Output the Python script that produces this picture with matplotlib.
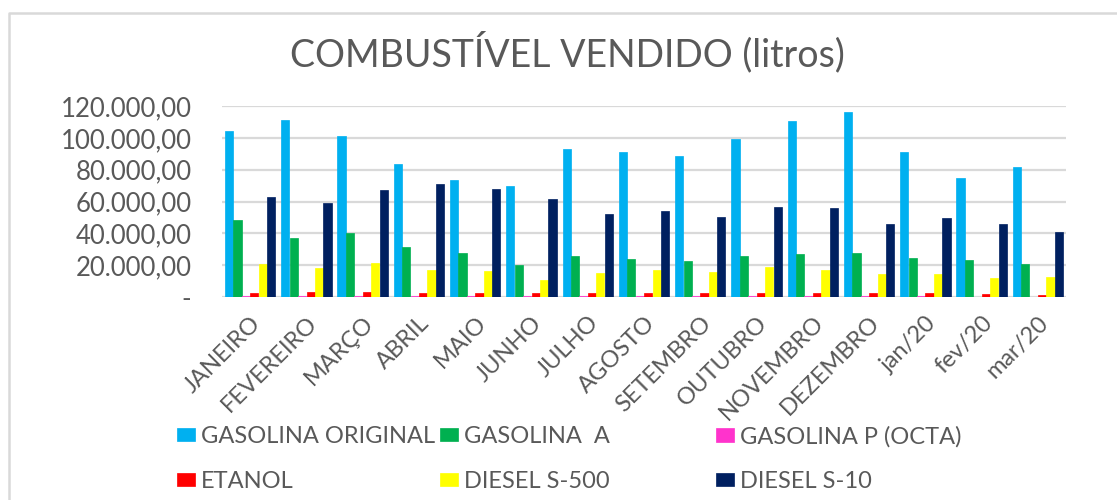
import matplotlib
matplotlib.use('Agg')
import matplotlib.pyplot as plt
import numpy as np
from matplotlib.lines import Line2D
from matplotlib.ticker import FuncFormatter

meses = ['JANEIRO', 'FEVEREIRO', 'MARÇO', 'ABRIL', 'MAIO', 'JUNHO', 'JULHO',
         'AGOSTO', 'SETEMBRO', 'OUTUBRO', 'NOVEMBRO', 'DEZEMBRO',
         'jan/20', 'fev/20', 'mar/20']

gasolina_original = [104500, 111000, 101000, 83500, 73500, 69700, 93000, 91000,
                     88500, 99000, 110500, 116000, 91000, 74700, 81600]
gasolina_a = [48400, 37000, 40000, 31400, 27600, 20000, 26000, 23700,
              22600, 25700, 27000, 27400, 24500, 23000, 20700]
gasolina_p = [700, 700, 700, 700, 700, 600, 600, 600,
              600, 600, 600, 500, 500, 0, 0]
etanol = [2800, 2900, 3000, 2700, 2800, 2400, 2600, 2500,
          2400, 2500, 2300, 2500, 2400, 2100, 1500]
diesel_s500 = [20700, 18200, 21400, 17000, 16300, 10700, 15000, 16800,
               15700, 18800, 17000, 14400, 14400, 11900, 12600]
diesel_s10 = [62800, 59000, 67000, 71000, 67800, 61500, 52000, 54000,
              50000, 56500, 55900, 45800, 49600, 45800, 40800]

series = ['GASOLINA ORIGINAL', 'GASOLINA  A', 'GASOLINA P (OCTA)',
          'ETANOL', 'DIESEL S-500', 'DIESEL S-10']
valores = [gasolina_original, gasolina_a, gasolina_p, etanol, diesel_s500, diesel_s10]
cores = ['#00B0F0', '#00B050', '#FF33CC', '#FF0000', '#FFFF00', '#002060']

plt.rcParams['font.family'] = ['Lato', 'DejaVu Sans']
cinza = '#595959'

fig = plt.figure(figsize=(11.17, 5.0), dpi=100)
ax = fig.add_axes([222 / 1117, 1 - 297 / 500, (1066 - 222) / 1117, (297 - 106) / 500])

x = np.arange(len(meses))
w = 0.15
barras = []
for i, (nome, v, c) in enumerate(zip(series, valores, cores)):
    b = ax.bar(x + (i - 2.5) * w, v, width=w * 0.97, color=c, label=nome,
               edgecolor=c, linewidth=0.5, zorder=3)
    barras.append(b)

ax.set_ylim(0, 120000)
ax.set_xlim(-0.5, len(meses) - 0.5)
ax.set_yticks(np.arange(0, 120001, 20000))


def fmt(v, pos):
    if v == 0:
        return '-'
    s = f'{v:,.2f}'
    return s.replace(',', 'X').replace('.', ',').replace('X', '.')


ax.yaxis.set_major_formatter(FuncFormatter(fmt))
ax.grid(axis='y', color='#d9d9d9', linewidth=1.6, zorder=0)
for s in ax.spines.values():
    s.set_visible(False)
ax.tick_params(axis='both', length=0, colors=cinza)
ax.tick_params(axis='y', pad=22, labelsize=18.5)
ax.tick_params(axis='x', labelsize=17, pad=11)
ax.set_xticks(x)
ax.set_xticklabels(meses, rotation=45, ha='right', rotation_mode='anchor')

fig.text(567 / 1117, 1 - 52 / 500, 'COMBUSTÍVEL VENDIDO (litros)', ha='center',
         va='center', fontsize=27, color=cinza)

# legenda em tres colunas (Excel)
colunas = [(0, 3), (1, 4), (2, 5)]
xs = [177, 440, 716]
for (a, b), xp in zip(colunas, xs):
    lg = fig.legend([barras[a], barras[b]], [series[a], series[b]],
                    loc='upper left', bbox_to_anchor=(xp / 1117, 1 - 426 / 500),
                    frameon=False, fontsize=17, labelcolor=cinza,
                    handlelength=0.75, handleheight=0.5, handletextpad=0.25,
                    labelspacing=1.0, borderpad=0, borderaxespad=0)

# moldura do grafico
fig.add_artist(Line2D([9 / 1117, 9 / 1117, 1.0], [0.0, 1 - 13 / 500, 1 - 13 / 500],
                      transform=fig.transFigure, color='#d9d9d9', linewidth=1.8))

fig.savefig('out.png', dpi=100)
